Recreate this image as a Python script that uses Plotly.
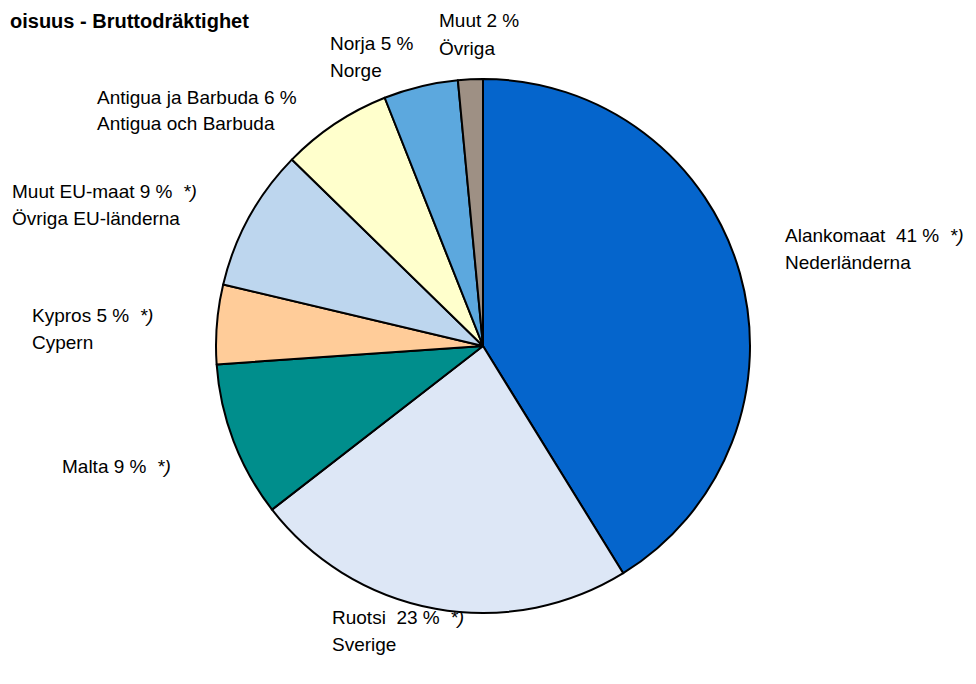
import plotly.graph_objects as go

W, H = 976, 684
OFF = 8  # page body margin offset

labels_fi = ["Alankomaat", "Ruotsi", "Malta", "Kypros", "Muut EU-maat", "Antigua ja Barbuda", "Norja", "Muut"]
labels_sv = ["Nederländerna", "Sverige", "", "Cypern", "Övriga EU-länderna", "Antigua och Barbuda", "Norge", "Övriga"]
shares = [41.2, 23.3, 9.4, 4.8, 8.6, 6.7, 4.5, 1.5]
label_pct = ["41 %", "23 %", "9 %", "5 %", "9 %", "6 %", "5 %", "2 %"]
eu_flag = [True, True, True, True, True, False, False, False]
colors = ["#0565CC", "#DDE7F6", "#008E8C", "#FFCC99", "#BDD6EE", "#FFFFCC", "#5CA8DE", "#9E9084"]
title_text = "oisuus - Bruttodräktighet"

FONT = "Liberation Sans Narrow, Arial Narrow, Liberation Sans, Arial"

cx, cy, r = 483 - OFF, 346 - OFF, 267
fig = go.Figure(go.Pie(
    labels=labels_fi, values=shares, sort=False, direction="clockwise", rotation=0,
    marker=dict(colors=colors, line=dict(color="black", width=2)),
    textinfo="none", hoverinfo="label+percent", showlegend=False,
    domain=dict(x=[(cx - r) / W, (cx + r) / W], y=[1 - (cy + r) / H, 1 - (cy - r) / H]),
))

# label positions: left x, centre y of first line (reference pixels)
pos = [(783, 236), (330, 617), (60, 466), (30, 316), (10, 191), (95, 97), (328, 44), (437, 21)]
sep = ["  ", "  ", " ", " ", " ", " ", " ", " "]
LINE = 27
anns = []
for i in range(len(labels_fi)):
    line1 = labels_fi[i] + sep[i] + label_pct[i]
    if eu_flag[i]:
        line1 += "  <i>*)</i>"
    x, y = pos[i]
    lines = [line1] + ([labels_sv[i]] if labels_sv[i] else [])
    for k, t in enumerate(lines):
        anns.append(dict(x=(x - OFF) / W, y=1 - (y + k * LINE - OFF) / H, xref="paper", yref="paper",
                         xanchor="left", yanchor="middle", align="left", text=t, showarrow=False,
                         font=dict(family=FONT, size=19, color="black")))
anns.append(dict(x=0, y=1, xref="paper", yref="paper", xanchor="left", yanchor="top",
                 text="<b>" + title_text + "</b>", showarrow=False,
                 font=dict(family="Liberation Sans, Arial", size=20, color="black")))

fig.update_layout(width=W, height=H, margin=dict(l=0, r=0, t=0, b=0),
                  paper_bgcolor="white", plot_bgcolor="white", annotations=anns)
fig.write_html("out.html")
